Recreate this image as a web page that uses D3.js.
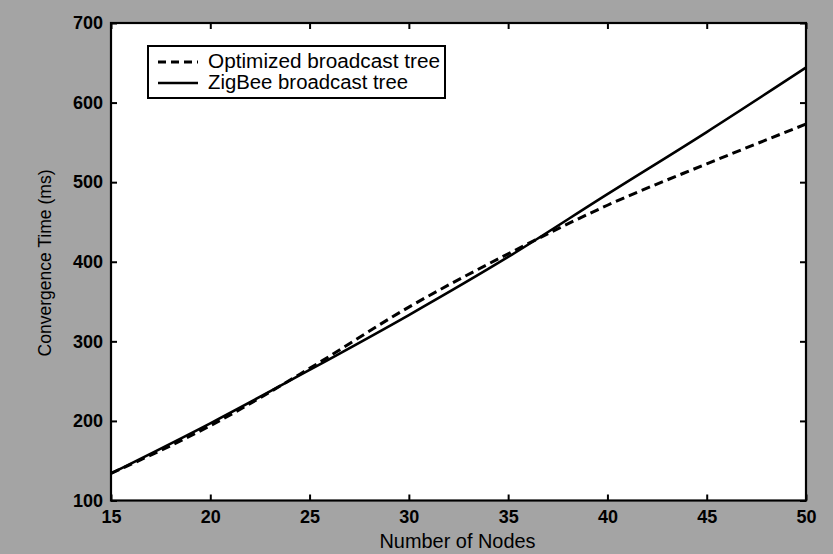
<!DOCTYPE html>
<html>
<head>
<meta charset="utf-8">
<script src="https://cdn.jsdelivr.net/npm/d3@7"></script>
<style>
  html, body { margin: 0; padding: 0; background: #a4a4a4; }
  svg { display: block; }
  text { font-family: "Liberation Sans", Arial, Helvetica, sans-serif; fill: #000; }
</style>
</head>
<body>
<svg id="chart" width="833" height="554"></svg>
<script>
// ---- data ----
const nodes = [15, 20, 25, 30, 35, 40, 45, 50];
const optimized = [134, 194, 266, 343, 410, 471, 523, 573];
const zigbee = [134, 197, 264, 333, 406, 485, 563, 644];
const xTicks = [15, 20, 25, 30, 35, 40, 45, 50];
const yTicks = [100, 200, 300, 400, 500, 600, 700];
const seriesNames = ["Optimized broadcast tree", "ZigBee broadcast tree"];
const xTitle = "Number of Nodes";
const yTitle = "Convergence Time (ms)";

// ---- layout ----
const W = 833, H = 554;
const L = 111, R = 806, T = 23, B = 500.5;
const svg = d3.select("#chart");

svg.append("rect").attr("x", 0).attr("y", 0).attr("width", W).attr("height", H).attr("fill", "#a4a4a4");

const x = d3.scaleLinear().domain([15, 50]).range([L, R]);
const y = d3.scaleLinear().domain([100, 700]).range([B, T]);

// plot area
svg.append("rect").attr("x", L).attr("y", T).attr("width", R - L).attr("height", B - T)
  .attr("fill", "#fff");

const tickLen = 6;
// axes (ticks inward, on all four sides)
const axB = d3.axisBottom(x).tickValues(xTicks).tickSizeInner(-tickLen).tickSizeOuter(0).tickPadding(10);
const axT = d3.axisTop(x).tickValues(xTicks).tickSizeInner(-tickLen).tickSizeOuter(0).tickFormat("");
const axL = d3.axisLeft(y).tickValues(yTicks).tickSizeInner(-tickLen).tickSizeOuter(0).tickPadding(8);
const axR = d3.axisRight(y).tickValues(yTicks).tickSizeInner(-tickLen).tickSizeOuter(0).tickFormat("");

function styleAxis(g) {
  g.select(".domain").remove();
  g.selectAll(".tick line").attr("stroke", "#000").attr("stroke-width", 2);
  g.selectAll(".tick text").attr("font-size", 18).attr("font-weight", "bold")
    .attr("font-family", "'Liberation Sans', Arial, sans-serif").attr("fill", "#000");
}
svg.append("g").attr("transform", `translate(0,${B})`).call(axB).call(styleAxis)
  .selectAll(".tick text").attr("dy", "0.71em");
svg.append("g").attr("transform", `translate(0,${T})`).call(axT).call(styleAxis);
svg.append("g").attr("transform", `translate(${L},0)`).call(axL).call(styleAxis);
svg.append("g").attr("transform", `translate(${R},0)`).call(axR).call(styleAxis);

// lines
const line = d3.line().x((d, i) => x(nodes[i])).y(d => y(d)).curve(d3.curveMonotoneX);
svg.append("path").datum(zigbee).attr("d", line).attr("fill", "none")
  .attr("stroke", "#000").attr("stroke-width", 2.6);
svg.append("path").datum(optimized).attr("d", line).attr("fill", "none")
  .attr("stroke", "#000").attr("stroke-width", 3).attr("stroke-dasharray", "9,5");

// frame
svg.append("rect").attr("x", L).attr("y", T).attr("width", R - L).attr("height", B - T)
  .attr("fill", "none").attr("stroke", "#000").attr("stroke-width", 2.2);

// legend
const lg = svg.append("g");
lg.append("rect").attr("x", 148).attr("y", 46).attr("width", 297).attr("height", 52)
  .attr("fill", "#fff").attr("stroke", "#000").attr("stroke-width", 2);
const rows = [
  { name: seriesNames[0], dash: "8,5", y: 62, base: 68, len: 232 },
  { name: seriesNames[1], dash: null, y: 83, base: 89, len: 200 }
];
rows.forEach(r => {
  lg.append("line").attr("x1", 158).attr("x2", 198).attr("y1", r.y).attr("y2", r.y)
    .attr("stroke", "#000").attr("stroke-width", r.dash ? 3 : 2.6)
    .attr("stroke-dasharray", r.dash);
  lg.append("text").attr("x", 208).attr("y", r.base).attr("font-size", 19.5)
    .attr("textLength", r.len).attr("lengthAdjust", "spacingAndGlyphs").text(r.name);
});

// axis titles
svg.append("text").attr("x", (L + R) / 2 - 1).attr("y", 548).attr("text-anchor", "middle")
  .attr("font-size", 20).attr("textLength", 156).attr("lengthAdjust", "spacingAndGlyphs").text(xTitle);
svg.append("text").attr("transform", `translate(51,${263}) rotate(-90)`).attr("text-anchor", "middle")
  .attr("font-size", 17.5).attr("textLength", 187).attr("lengthAdjust", "spacingAndGlyphs").text(yTitle);
</script>
</body>
</html>
